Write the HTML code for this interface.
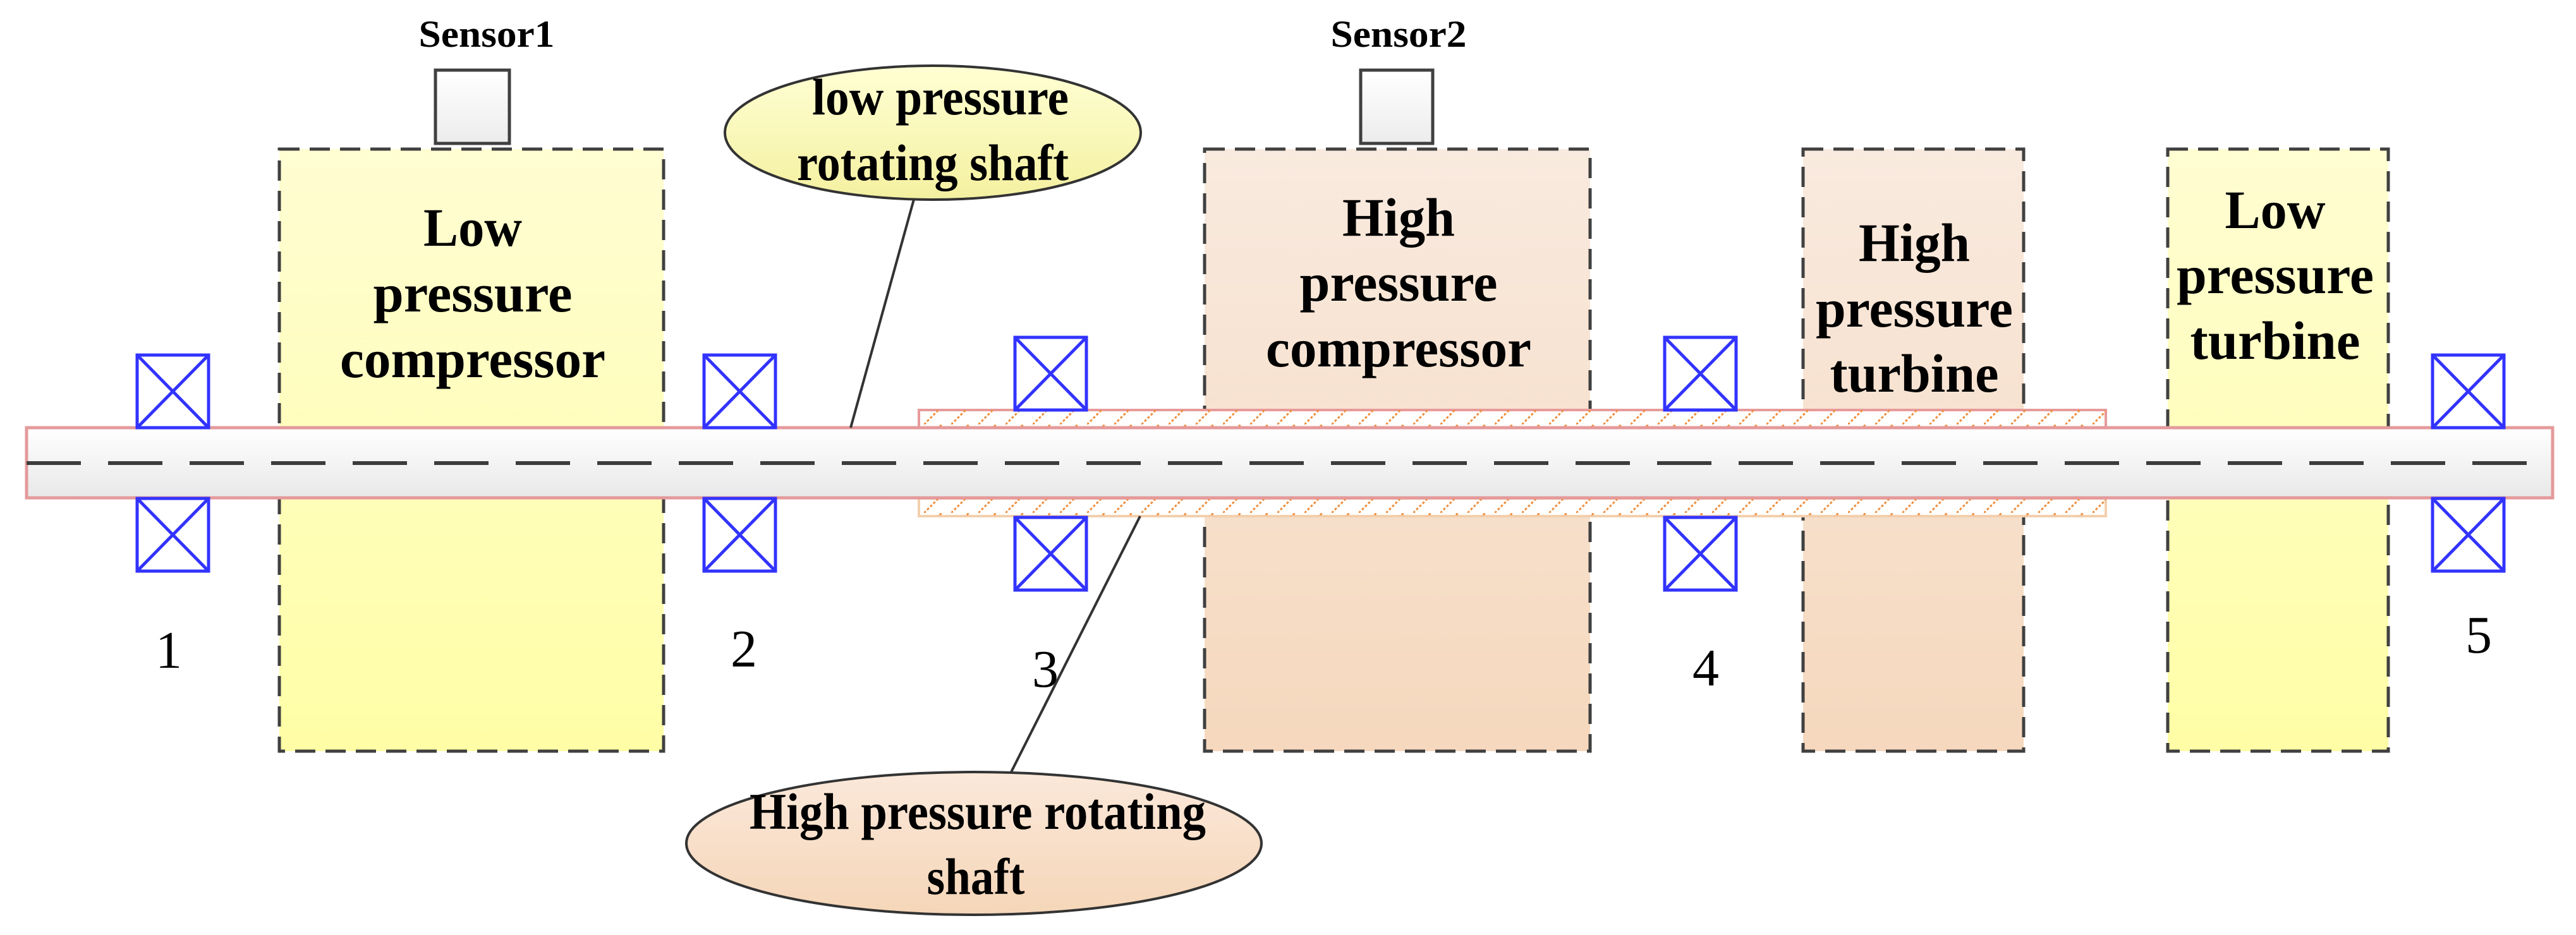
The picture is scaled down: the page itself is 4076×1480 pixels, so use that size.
<!DOCTYPE html>
<html><head><meta charset="utf-8"><style>html,body{margin:0;padding:0;background:#fff}svg{display:block}</style></head>
<body>
<svg width="4076" height="1480" viewBox="0 0 4076 1480" xmlns="http://www.w3.org/2000/svg" font-family="'Liberation Serif', serif">
<defs>
<linearGradient id="ylw" x1="0" y1="0" x2="0" y2="1"><stop offset="0" stop-color="#fffdd2"/><stop offset="1" stop-color="#fffea6"/></linearGradient>
<linearGradient id="pch" x1="0" y1="0" x2="0" y2="1"><stop offset="0" stop-color="#f9eadf"/><stop offset="1" stop-color="#f5d8bd"/></linearGradient>
<linearGradient id="shaft" x1="0" y1="0" x2="0" y2="1"><stop offset="0" stop-color="#ffffff"/><stop offset="1" stop-color="#e8e8e8"/></linearGradient>
<linearGradient id="sens" x1="0" y1="0" x2="0" y2="1"><stop offset="0" stop-color="#ffffff"/><stop offset="1" stop-color="#ececec"/></linearGradient>
<linearGradient id="ely" x1="0" y1="0" x2="0" y2="1"><stop offset="0" stop-color="#ffffd4"/><stop offset="1" stop-color="#f4f0a0"/></linearGradient>
<linearGradient id="elp" x1="0" y1="0" x2="0" y2="1"><stop offset="0" stop-color="#fbe8da"/><stop offset="1" stop-color="#f5d6b8"/></linearGradient>
<pattern id="hatch" width="43" height="28" patternUnits="userSpaceOnUse">
<line x1="0" y1="28" x2="28" y2="0" stroke="#ee9040" stroke-width="3" stroke-dasharray="4,3"/>
</pattern>
<g id="b"><rect x="0" y="0" width="113" height="115"/><line x1="0" y1="0" x2="113" y2="115"/><line x1="113" y1="0" x2="0" y2="115"/></g>
</defs>

<g stroke="#404040" stroke-width="5" stroke-dasharray="32,16">
<rect x="442" y="236" width="608" height="953" fill="url(#ylw)"/>
<rect x="1906" y="236" width="610" height="953" fill="url(#pch)"/>
<rect x="2853" y="236" width="349" height="953" fill="url(#pch)"/>
<rect x="3430" y="236" width="349" height="953" fill="url(#ylw)"/>
</g>

<rect x="689" y="111" width="117" height="116" fill="url(#sens)" stroke="#404040" stroke-width="5"/>
<rect x="2153" y="111" width="114" height="116" fill="url(#sens)" stroke="#404040" stroke-width="5"/>
<g font-weight="bold" font-size="60" text-anchor="middle" fill="#000">
<text x="770" y="74" textLength="215" lengthAdjust="spacingAndGlyphs">Sensor1</text>
<text x="2213" y="74" textLength="215" lengthAdjust="spacingAndGlyphs">Sensor2</text>
</g>

<g font-weight="bold" font-size="86" text-anchor="middle" fill="#000">
<text x="748" y="389" textLength="156" lengthAdjust="spacingAndGlyphs">Low</text>
<text x="748" y="493" textLength="315" lengthAdjust="spacingAndGlyphs">pressure</text>
<text x="748" y="597" textLength="420" lengthAdjust="spacingAndGlyphs">compressor</text>
<text x="2213" y="373" textLength="178" lengthAdjust="spacingAndGlyphs">High</text>
<text x="2213" y="476" textLength="313" lengthAdjust="spacingAndGlyphs">pressure</text>
<text x="2213" y="580" textLength="420" lengthAdjust="spacingAndGlyphs">compressor</text>
<text x="3029" y="413" textLength="176" lengthAdjust="spacingAndGlyphs">High</text>
<text x="3029" y="517" textLength="312" lengthAdjust="spacingAndGlyphs">pressure</text>
<text x="3029" y="620" textLength="267" lengthAdjust="spacingAndGlyphs">turbine</text>
<text x="3600" y="361" textLength="159" lengthAdjust="spacingAndGlyphs">Low</text>
<text x="3600" y="464" textLength="312" lengthAdjust="spacingAndGlyphs">pressure</text>
<text x="3600" y="568" textLength="269" lengthAdjust="spacingAndGlyphs">turbine</text>
</g>

<rect x="1454" y="649" width="1878" height="28" fill="#fff" stroke="#e89a9a" stroke-width="4"/>
<rect x="1454" y="649" width="1878" height="28" fill="url(#hatch)"/>
<rect x="1454" y="789" width="1878" height="28" fill="#fff" stroke="#f4cfad" stroke-width="4"/>
<rect x="1454" y="789" width="1878" height="28" fill="url(#hatch)"/>

<rect x="42" y="677" width="3997" height="111" fill="url(#shaft)" stroke="#e49a9a" stroke-width="5"/>
<line x1="42" y1="733" x2="4039" y2="733" stroke="#3c3c3c" stroke-width="6" stroke-dasharray="86,43"/>

<g fill="none" stroke="#3333ff" stroke-width="5">
<use href="#b" x="217" y="562"/><use href="#b" x="217" y="789"/>
<use href="#b" x="1114" y="562"/><use href="#b" x="1114" y="789"/>
<use href="#b" x="1606" y="534"/><use href="#b" x="1606" y="819"/>
<use href="#b" x="2634" y="534"/><use href="#b" x="2634" y="819"/>
<use href="#b" x="3849" y="562"/><use href="#b" x="3849" y="789"/>
</g>

<g font-size="84" text-anchor="middle" fill="#000">
<text x="267" y="1057">1</text>
<text x="1177" y="1055">2</text>
<text x="1654" y="1087">3</text>
<text x="2699" y="1085">4</text>
<text x="3922" y="1033">5</text>
</g>

<line x1="1447" y1="312" x2="1346" y2="677" stroke="#333" stroke-width="4"/>
<line x1="1600" y1="1222" x2="1804" y2="817" stroke="#333" stroke-width="4"/>

<ellipse cx="1476" cy="210" rx="329" ry="106" fill="url(#ely)" stroke="#333" stroke-width="4"/>
<ellipse cx="1541" cy="1335" rx="455" ry="113" fill="url(#elp)" stroke="#333" stroke-width="4"/>
<g font-weight="bold" font-size="82" text-anchor="middle" fill="#000">
<text x="1488" y="181" textLength="406" lengthAdjust="spacingAndGlyphs">low pressure</text>
<text x="1476" y="285" textLength="430" lengthAdjust="spacingAndGlyphs">rotating shaft</text>
<text x="1547" y="1312" textLength="722" lengthAdjust="spacingAndGlyphs">High pressure rotating</text>
<text x="1544" y="1415" textLength="155" lengthAdjust="spacingAndGlyphs">shaft</text>
</g>
</svg>
</body></html>
